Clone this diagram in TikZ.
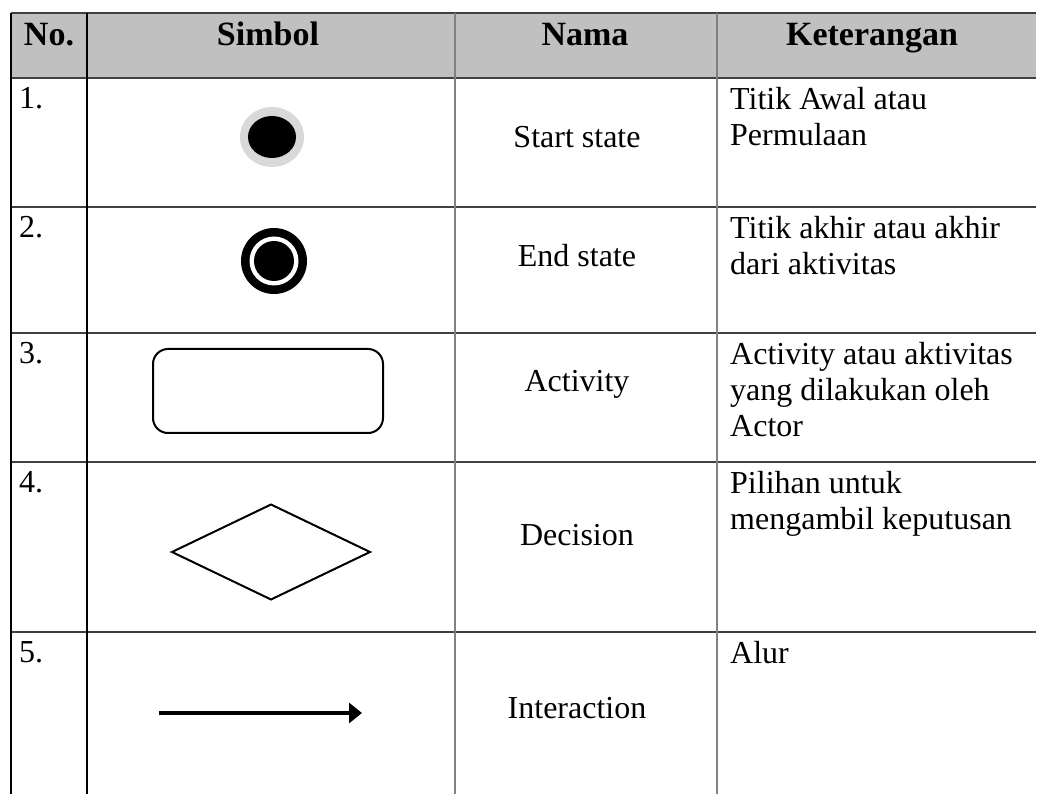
\documentclass[tikz,border=0pt]{standalone}
\usepackage{fontspec}
\setmainfont{Liberation Serif}
\usetikzlibrary{positioning, arrows.meta, shapes.geometric}

\definecolor{headgray}{HTML}{C0C0C0}
\definecolor{rulegray}{HTML}{808080}
\definecolor{ringgray}{HTML}{D9D9D9}

\tikzset{
	txt/.style={inner sep=0pt, font=\fontsize{32}{36}\selectfont, align=left},
	head/.style={inner sep=0pt, anchor=base, font=\fontsize{34}{38}\selectfont\bfseries},
	hrule/.style={line width=1.6pt, black!75},
	vrule/.style={line width=1.4pt, black},
	vsep/.style={line width=1.4pt, rulegray},
	blob/.style={inner sep=0pt, outer sep=0pt},
}

\begin{document}
\begin{tikzpicture}[x=1pt, y=-1pt]
	\useasboundingbox (0,0) rectangle (1045,794);

	% header
	\fill[headgray] (11,13) rectangle (1036,78);
	\node[head] (hno)   at (49,46)  {No.};
	\node[head] (hsym)  at (268,46) {Simbol};
	\node[head] (hname) at (585,46) {Nama};
	\node[head] (hdesc) at (872,46) {Keterangan};

	% grid
	\foreach \y in {13,78,207,333,462,632}
		\draw[hrule] (11,\y) -- (1036,\y);
	\foreach \x in {11,87}
		\draw[vrule] (\x,13) -- (\x,794);
	\foreach \x in {455,717}
		\draw[vsep] (\x,13) -- (\x,794);

	% numbers
	\node[txt, anchor=north west] (no1) at (19,87)  {1.};
	\node[txt, anchor=north west] (no2) at (19,216) {2.};
	\node[txt, anchor=north west] (no3) at (19,342) {3.};
	\node[txt, anchor=north west] (no4) at (19,471) {4.};
	\node[txt, anchor=north west] (no5) at (19,641) {5.};

	% symbols
	\node[blob, ellipse, fill=ringgray, minimum width=64pt, minimum height=60pt] (startring) at (272,137) {};
	\node[blob, ellipse, fill=black, minimum width=48pt, minimum height=42pt] (startdot) at (272,137) {};

	\node[blob, circle, fill=black, minimum size=66pt] (endring) at (274,261) {};
	\node[blob, circle, fill=white, minimum size=49pt] (endgap) at (274,261) {};
	\node[blob, circle, fill=black, minimum size=40pt] (enddot) at (274,261) {};

	\node[blob, draw, line width=2pt, rounded corners=15pt, minimum width=230pt, minimum height=84pt] (actbox) at (268,391) {};

	\node[blob, draw, line width=2pt, diamond, minimum width=198pt, minimum height=95pt] (decbox) at (271,552) {};

	\coordinate (flowa) at (159,713);
	\coordinate (flowb) at (362,713);
	\draw[line width=4pt, -{Triangle[length=13pt, width=20pt]}] (flowa) -- (flowb);

	% names
	\node[txt] (name1) at (577,137) {Start state};
	\node[txt] (name2) at (577,256) {End state};
	\node[txt] (name3) at (577,384) {Activity};
	\node[txt] (name4) at (577,535) {Decision};
	\node[txt] (name5) at (577,708) {Interaction};

	% descriptions
	\node[txt, anchor=north west] (desc1) at (730,87)  {Titik Awal atau\\Permulaan};
	\node[txt, anchor=north west] (desc2) at (730,216) {Titik akhir atau akhir\\dari aktivitas};
	\node[txt, anchor=north west] (desc3) at (730,342) {Activity atau aktivitas\\yang dilakukan oleh\\Actor};
	\node[txt, anchor=north west] (desc4) at (730,471) {Pilihan untuk\\mengambil keputusan};
	\node[txt, anchor=north west] (desc5) at (730,641) {Alur};
\end{tikzpicture}
\end{document}
